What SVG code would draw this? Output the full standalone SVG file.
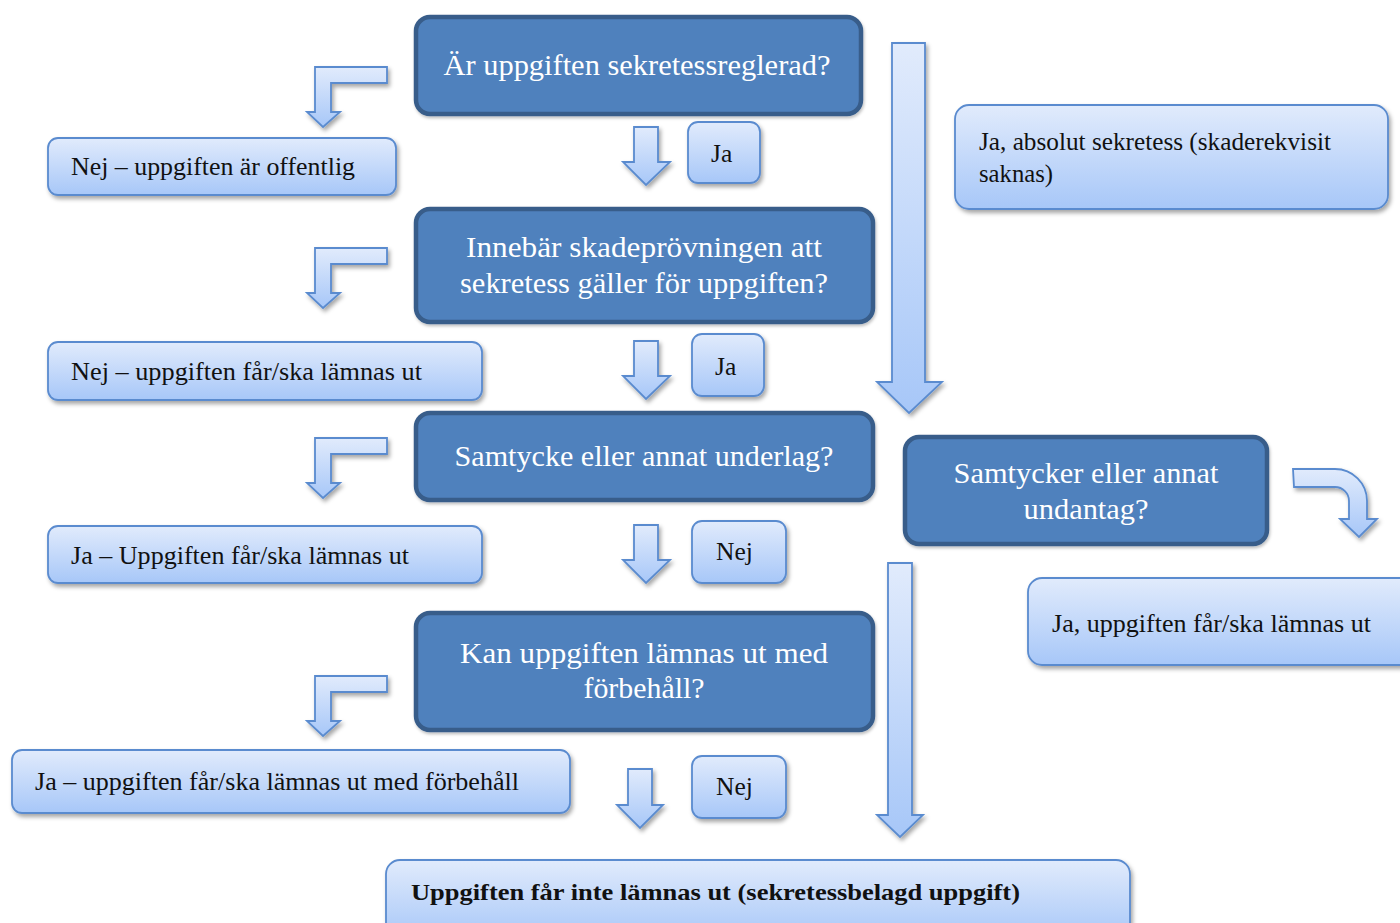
<svg xmlns="http://www.w3.org/2000/svg" width="1400" height="923" viewBox="0 0 1400 923">
<defs>
<linearGradient id="lg" x1="0" y1="0" x2="0" y2="1">
<stop offset="0" stop-color="#e1ebfc"/>
<stop offset="1" stop-color="#a7c7f8"/>
</linearGradient>
<filter id="sh" x="-10%" y="-10%" width="130%" height="140%">
<feDropShadow dx="2" dy="3" stdDeviation="2.2" flood-color="#000" flood-opacity="0.35"/>
</filter>
<filter id="sh2" x="-10%" y="-10%" width="130%" height="140%">
<feDropShadow dx="1" dy="2" stdDeviation="1.5" flood-color="#000" flood-opacity="0.25"/>
</filter>
</defs>
<style>
.dark{fill:#4f81bd;stroke:#385d8a;stroke-width:4.5;filter:url(#sh2)}
.light{fill:url(#lg);stroke:#5a8bcf;stroke-width:1.8;filter:url(#sh)}
.arr{fill:url(#lg);stroke:#5a8bcf;stroke-width:1.8;stroke-linejoin:miter;filter:url(#sh)}
.dt{font-family:"Liberation Serif","Times New Roman",serif;font-size:29px;fill:#ffffff;text-anchor:middle}
.lt{font-family:"Liberation Serif","Times New Roman",serif;font-size:25.5px;fill:#111111}
.bt{font-family:"Liberation Serif","Times New Roman",serif;font-size:23.5px;font-weight:bold;fill:#111111}
</style>
<rect width="1400" height="923" fill="#ffffff"/>

<g id="connectors">
<path class="arr" d="M387,67 L387,83 L331,83 L331,112 L340,112 L323,127 L307,112 L315,112 L315,67 Z"/>
<path class="arr" d="M387,248 L387,264 L331,264 L331,293 L340,293 L323,308 L307,293 L315,293 L315,248 Z"/>
<path class="arr" d="M387,438 L387,454 L331,454 L331,483 L340,483 L323,498 L307,483 L315,483 L315,438 Z"/>
<path class="arr" d="M387,676 L387,692 L331,692 L331,721 L340,721 L323,736 L307,721 L315,721 L315,676 Z"/>
<path class="arr" d="M634,127 L658,127 L658,162 L670,162 L646,185 L623,162 L634,162 Z"/>
<path class="arr" d="M634,341 L658,341 L658,376 L670,376 L646,399 L623,376 L634,376 Z"/>
<path class="arr" d="M634,525 L658,525 L658,560 L670,560 L646,583 L623,560 L634,560 Z"/>
<path class="arr" d="M628,769 L652,769 L652,805 L663,805 L640,828 L617,805 L628,805 Z"/>
<path class="arr" d="M892,43 L925,43 L925,382 L942,382 L909,413 L877,382 L892,382 Z"/>
<path class="arr" d="M888,563 L912,563 L912,815 L923,815 L900,837 L877,815 L888,815 Z"/>
<path class="arr" d="M1293,469 L1335,469 A32,32 0 0 1 1367,501 L1367,519 L1377,519 L1359,537 L1340,519 L1349,519 L1349,501 A14,14 0 0 0 1335,487 L1294,487 Z"/>
</g>

<g id="q1">
<rect class="dark" x="416" y="17" width="445" height="97" rx="14"/>
<text class="dt" x="637" y="75" textLength="387" lengthAdjust="spacingAndGlyphs">Är uppgiften sekretessreglerad?</text>
</g>
<g id="q2">
<rect class="dark" x="416" y="209" width="457" height="113" rx="14"/>
<text class="dt" x="644" y="257" textLength="356" lengthAdjust="spacingAndGlyphs">Innebär skadeprövningen att</text>
<text class="dt" x="644" y="293" textLength="368" lengthAdjust="spacingAndGlyphs">sekretess gäller för uppgiften?</text>
</g>
<g id="q3">
<rect class="dark" x="416" y="413" width="457" height="87" rx="14"/>
<text class="dt" x="644" y="466" textLength="379" lengthAdjust="spacingAndGlyphs">Samtycke eller annat underlag?</text>
</g>
<g id="q4">
<rect class="dark" x="416" y="613" width="457" height="117" rx="14"/>
<text class="dt" x="644" y="663" textLength="368" lengthAdjust="spacingAndGlyphs">Kan uppgiften lämnas ut med</text>
<text class="dt" x="644" y="698" textLength="121" lengthAdjust="spacingAndGlyphs">förbehåll?</text>
</g>
<g id="q5">
<rect class="dark" x="905" y="437" width="362" height="107" rx="14"/>
<text class="dt" x="1086" y="483" textLength="265" lengthAdjust="spacingAndGlyphs">Samtycker eller annat</text>
<text class="dt" x="1086" y="519" textLength="125" lengthAdjust="spacingAndGlyphs">undantag?</text>
</g>

<g id="a1">
<rect class="light" x="48" y="138" width="348" height="57" rx="10"/>
<text class="lt" x="71" y="175" textLength="284" lengthAdjust="spacingAndGlyphs">Nej – uppgiften är offentlig</text>
</g>
<g id="ja1">
<rect class="light" x="688" y="122" width="72" height="61" rx="10"/>
<text class="lt" x="711" y="162">Ja</text>
</g>
<g id="abs">
<rect class="light" x="955" y="105" width="433" height="104" rx="14"/>
<text class="lt" x="979" y="150" textLength="352" lengthAdjust="spacingAndGlyphs">Ja, absolut sekretess (skaderekvisit</text>
<text class="lt" x="979" y="182" textLength="74" lengthAdjust="spacingAndGlyphs">saknas)</text>
</g>
<g id="a2">
<rect class="light" x="48" y="342" width="434" height="58" rx="10"/>
<text class="lt" x="71" y="380" textLength="351" lengthAdjust="spacingAndGlyphs">Nej – uppgiften får/ska lämnas ut</text>
</g>
<g id="ja2">
<rect class="light" x="692" y="334" width="72" height="62" rx="10"/>
<text class="lt" x="715" y="375">Ja</text>
</g>
<g id="a3">
<rect class="light" x="48" y="526" width="434" height="57" rx="10"/>
<text class="lt" x="71" y="564" textLength="338" lengthAdjust="spacingAndGlyphs">Ja – Uppgiften får/ska lämnas ut</text>
</g>
<g id="nej1">
<rect class="light" x="692" y="521" width="94" height="62" rx="10"/>
<text class="lt" x="716" y="560">Nej</text>
</g>
<g id="a5">
<rect class="light" x="1028" y="578" width="390" height="87" rx="14"/>
<text class="lt" x="1052" y="632" textLength="319" lengthAdjust="spacingAndGlyphs">Ja, uppgiften får/ska lämnas ut</text>
</g>
<g id="a4">
<rect class="light" x="12" y="750" width="558" height="63" rx="10"/>
<text class="lt" x="35" y="790" textLength="484" lengthAdjust="spacingAndGlyphs">Ja – uppgiften får/ska lämnas ut med förbehåll</text>
</g>
<g id="nej2">
<rect class="light" x="692" y="756" width="94" height="62" rx="10"/>
<text class="lt" x="716" y="795">Nej</text>
</g>
<g id="final">
<rect class="light" x="386" y="860" width="744" height="80" rx="14"/>
<text class="bt" x="411" y="900" textLength="609" lengthAdjust="spacingAndGlyphs">Uppgiften får inte lämnas ut (sekretessbelagd uppgift)</text>
</g>
</svg>
